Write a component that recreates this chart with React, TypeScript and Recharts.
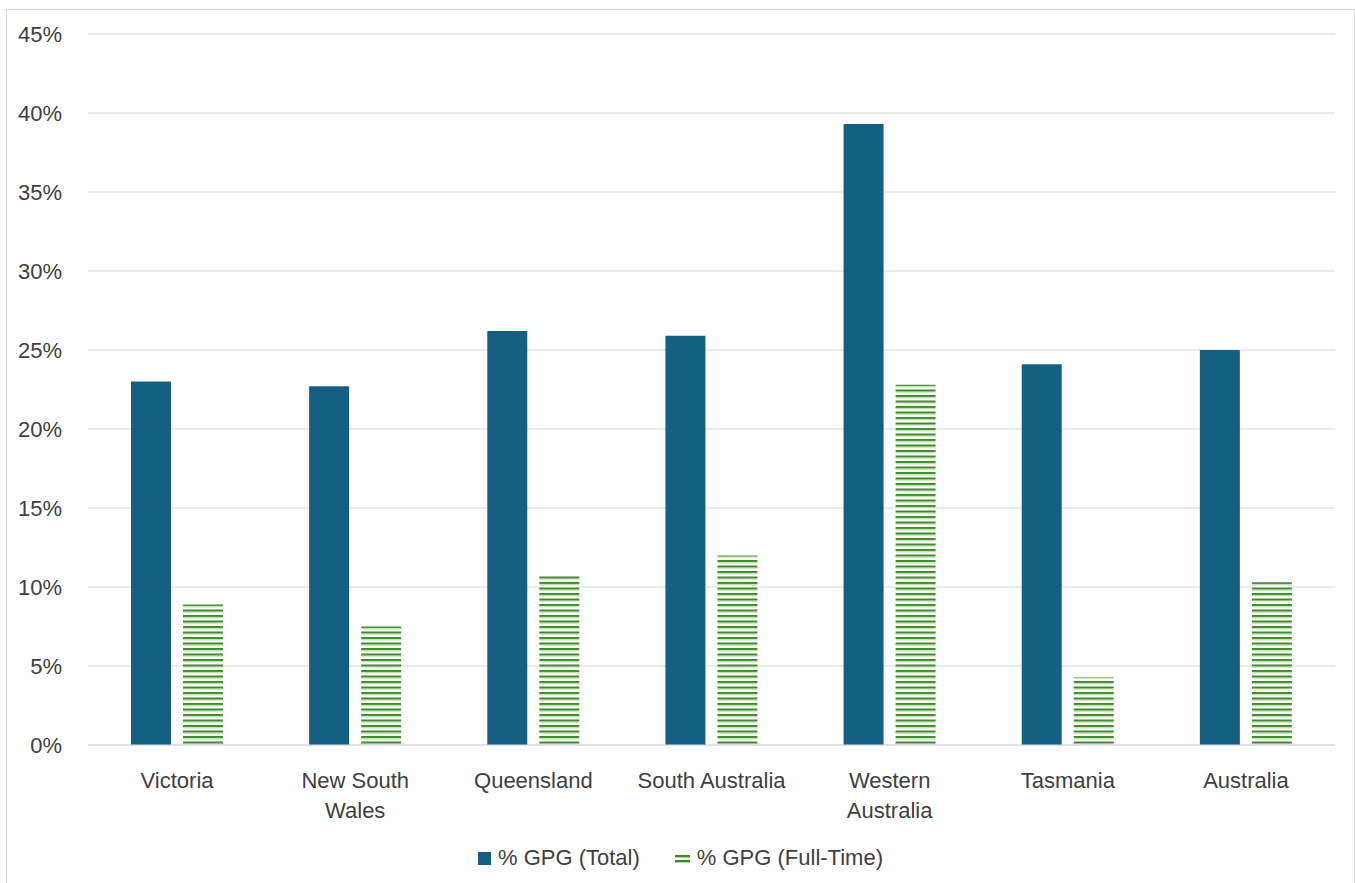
import React from "react";
import { BarChart, Bar, XAxis, YAxis, CartesianGrid, Legend } from "recharts";

// Gender pay gap by state / territory
const regions = [
  "Victoria",
  "New South\nWales",
  "Queensland",
  "South Australia",
  "Western\nAustralia",
  "Tasmania",
  "Australia",
];
const gpgTotal = [23.0, 22.7, 26.2, 25.9, 39.3, 24.1, 25.0];
const gpgFullTime = [8.9, 7.5, 10.7, 12.0, 22.8, 4.3, 10.3];
const yTicks = [0, 5, 10, 15, 20, 25, 30, 35, 40, 45];
const seriesNames = ["% GPG (Total)", "% GPG (Full-Time)"];

const data = regions.map((region, i) => ({
  region,
  total: gpgTotal[i],
  fullTime: gpgFullTime[i],
}));

const FONT = "'Liberation Sans', Arial, sans-serif";
const TEXT = "#404040";
const BLUE = "#156082";
const GRID = "#d9d9d9";

const RegionTick = (props: any) => {
  const { x, y, payload } = props;
  const lines = String(payload.value).split("\n");
  return (
    <g transform={`translate(${x},${y})`}>
      <text textAnchor="middle" fill={TEXT} fontSize={22} fontFamily={FONT}>
        {lines.map((line, i) => (
          <tspan key={i} x={0} y={41 + i * 30}>
            {line}
          </tspan>
        ))}
      </text>
    </g>
  );
};

const StripeSwatch = () => (
  <svg width={15} height={14} style={{ display: "block" }}>
    <rect x={0} y={4} width={15} height={2} fill="#3f8a2b" />
    <rect x={0} y={6} width={15} height={1} fill="#b5d8a2" />
    <rect x={0} y={9} width={15} height={2} fill="#3f8a2b" />
    <rect x={0} y={11} width={15} height={1} fill="#b5d8a2" />
  </svg>
);

const LegendContent = () => (
  <div
    style={{
      display: "flex",
      justifyContent: "center",
      alignItems: "center",
      fontFamily: FONT,
      fontSize: 22,
      color: TEXT,
    }}
  >
    <div style={{ display: "flex", alignItems: "center", marginRight: 35 }}>
      <div style={{ width: 13, height: 13, background: BLUE, marginRight: 7 }} />
      <span>{seriesNames[0]}</span>
    </div>
    <div style={{ display: "flex", alignItems: "center" }}>
      <div style={{ marginRight: 7 }}>
        <StripeSwatch />
      </div>
      <span>{seriesNames[1]}</span>
    </div>
  </div>
);

export default function App() {
  return (
    <div
      style={{
        position: "absolute",
        left: 6,
        top: 9,
        width: 1349,
        height: 874,
        boxSizing: "border-box",
        borderTop: `1px solid ${GRID}`,
        borderLeft: `1px solid ${GRID}`,
        borderRight: `1px solid ${GRID}`,
        background: "#fff",
      }}
    >
      <BarChart
        width={1347}
        height={873}
        data={data}
        margin={{ top: 24, right: 19, bottom: 0, left: 0 }}
        barSize={40}
        barGap={12}
      >
        <defs>
          <pattern
            id="ftStripes"
            patternUnits="userSpaceOnUse"
            width={8}
            height={5.5}
          >
            <rect x={0} y={0} width={8} height={5.5} fill="#ffffff" />
            <rect x={0} y={0} width={8} height={2} fill="#3f8a2b" />
            <rect x={0} y={2} width={8} height={1.2} fill="#b5d8a2" />
          </pattern>
        </defs>
        <CartesianGrid vertical={false} stroke={GRID} />
        <XAxis
          dataKey="region"
          height={138}
          axisLine={{ stroke: GRID }}
          tickLine={false}
          tickSize={0}
          interval={0}
          tick={<RegionTick />}
        />
        <YAxis
          width={81}
          domain={[0, 45]}
          ticks={yTicks}
          tickFormatter={(v: number) => `${v}%`}
          axisLine={false}
          tickLine={false}
          tickSize={0}
          tickMargin={26}
          tick={{ fill: TEXT, fontSize: 22, fontFamily: FONT }}
        />
        <Legend
          verticalAlign="middle"
          align="center"
          content={<LegendContent />}
          wrapperStyle={{ top: 835, left: 0, width: 1347 }}
        />
        <Bar
          dataKey="total"
          name={seriesNames[0]}
          fill={BLUE}
          isAnimationActive={false}
        />
        <Bar
          dataKey="fullTime"
          name={seriesNames[1]}
          fill="url(#ftStripes)"
          isAnimationActive={false}
        />
      </BarChart>
    </div>
  );
}
